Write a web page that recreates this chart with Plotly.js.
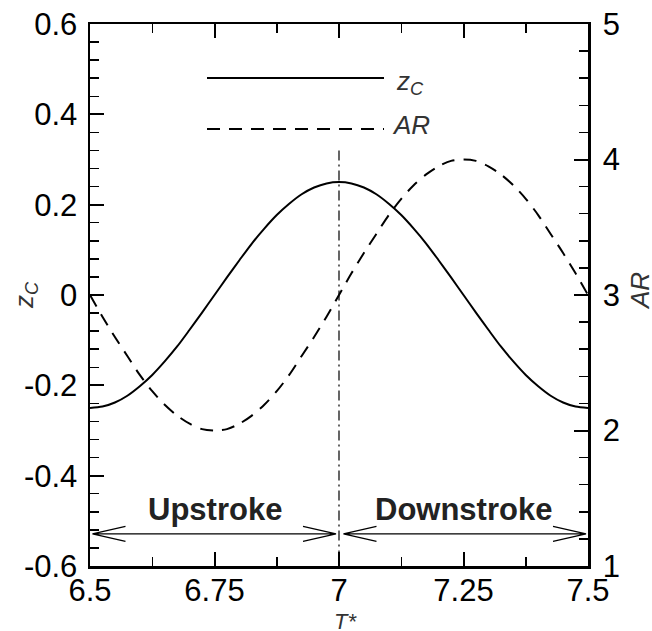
<!DOCTYPE html>
<html><head><meta charset="utf-8">
<script src="https://cdn.plot.ly/plotly-3.0.1.min.js"></script>
<style>html,body{margin:0;padding:0;background:#fff;}#chart{width:652px;height:631px;}</style>
</head><body><div id="chart"></div>
<script>
// ---- data ----
const T = [6.5,6.525,6.55,6.575,6.6,6.625,6.65,6.675,6.7,6.725,6.75,6.775,6.8,6.825,6.85,6.875,6.9,6.925,6.95,6.975,
           7.0,7.025,7.05,7.075,7.1,7.125,7.15,7.175,7.2,7.225,7.25,7.275,7.3,7.325,7.35,7.375,7.4,7.425,7.45,7.475,7.5];
const zC = [-0.25,-0.247,-0.238,-0.223,-0.202,-0.177,-0.147,-0.114,-0.077,-0.039,0.0,0.039,0.077,0.114,0.147,0.177,0.202,0.223,0.238,0.247,
            0.25,0.247,0.238,0.223,0.202,0.177,0.147,0.114,0.077,0.039,0.0,-0.039,-0.077,-0.114,-0.147,-0.177,-0.202,-0.223,-0.238,-0.247,-0.25];
const AR = [3.0,2.84,2.69,2.55,2.41,2.29,2.19,2.11,2.05,2.01,2.0,2.01,2.05,2.11,2.19,2.29,2.41,2.55,2.69,2.84,
            3.0,3.16,3.31,3.45,3.59,3.71,3.81,3.89,3.95,3.99,4.0,3.99,3.95,3.89,3.81,3.71,3.59,3.45,3.31,3.16,3.0];

const xTickVals = [6.5,6.75,7,7.25,7.5];
const xTickText = ["6.5","6.75","7","7.25","7.5"];
const yTickVals = [-0.6,-0.4,-0.2,0,0.2,0.4,0.6];
const yTickText = ["-0.6","-0.4","-0.2","0","0.2","0.4","0.6"];
const y2TickVals = [1,2,3,4,5];
const y2TickText = ["1","2","3","4","5"];

const phases = ["Upstroke","Downstroke"];
const phaseStart = [6.5,7.0];
const phaseEnd = [7.0,7.5];
const phaseMid = [6.75,7.25];
const arrowLevel = -0.529;   // zC units
const markerT = 7.0;          // dash-dot divider
const markerTop = 0.32;

// ---- layout helpers ----
const W = 652, H = 631, L = 90, R = 64, TOP = 24, B = 65;
const pw = W - L - R, ph = H - TOP - B;
const px = x => (x - L) / pw;          // pixel -> paper x
const py = y => (H - B - y) / ph;      // pixel -> paper y
const FONT = "Liberation Sans, Arial, Helvetica, sans-serif";
const INK = "#000";

const traces = [
  {x: T, y: zC, type: "scatter", mode: "lines", line: {color: INK, width: 2, shape: "spline", smoothing: 0.8}, yaxis: "y", hoverinfo: "skip"},
  {x: T, y: AR, type: "scatter", mode: "lines", line: {color: INK, width: 2, dash: "13px,9px", shape: "spline", smoothing: 0.8}, yaxis: "y2", hoverinfo: "skip"}
];

const shapes = [];
shapes.push({type: "line", xref: "x", yref: "y", x0: markerT, x1: markerT, y0: markerTop, y1: -0.6,
  line: {color: INK, width: 1.2, dash: "10px,4px,2px,4px"}});
const headDx = 33 / pw * 1.0;
const headDy = 7.5 / ph * 1.2;
for (let i = 0; i < phases.length; i++) {
  const a = phaseStart[i] + (i === 0 ? 0.005 : 0.009);
  const b = phaseEnd[i] - (i === 0 ? 0.006 : 0.004);
  const y = arrowLevel;
  shapes.push({type: "path", xref: "x", yref: "y",
    path: `M${a},${y} L${b},${y} M${a+headDx},${y+headDy} L${a},${y} L${a+headDx},${y-headDy} M${b-headDx},${y+headDy} L${b},${y} L${b-headDx},${y-headDy}`,
    line: {color: INK, width: 1.3}});
}
shapes.push({type: "line", xref: "paper", yref: "paper", x0: px(207), x1: px(384), y0: py(78), y1: py(78), line: {color: INK, width: 2}});
shapes.push({type: "line", xref: "paper", yref: "paper", x0: px(207), x1: px(384), y0: py(129), y1: py(129), line: {color: INK, width: 2, dash: "13px,9px"}});

const annotations = [];
for (let i = 0; i < phases.length; i++) {
  annotations.push({xref: "x", yref: "y", x: phaseMid[i], y: arrowLevel, yshift: 24, text: "<b>" + phases[i] + "</b>",
    showarrow: false, xanchor: "center", yanchor: "middle", font: {family: FONT, size: 31, color: "#222"}});
}
const italicFont = {family: FONT, size: 26, color: "#333"};
annotations.push({xref: "paper", yref: "paper", x: px(394), y: py(82), text: "<i>z<sub>C</sub></i>", showarrow: false, xanchor: "left", yanchor: "middle", font: italicFont});
annotations.push({xref: "paper", yref: "paper", x: px(390), y: py(125), text: "<i>AR</i>", showarrow: false, xanchor: "left", yanchor: "middle", font: italicFont});
annotations.push({xref: "paper", yref: "paper", x: px(25), y: py(295), text: "<i>z<sub>C</sub></i>", textangle: -90, showarrow: false, xanchor: "center", yanchor: "middle", font: italicFont});
annotations.push({xref: "paper", yref: "paper", x: px(640), y: py(291), text: "<i>AR</i>", textangle: -90, showarrow: false, xanchor: "center", yanchor: "middle", font: italicFont});
annotations.push({xref: "paper", yref: "paper", x: px(345), y: py(621), text: "<i>T*</i>", showarrow: false, xanchor: "center", yanchor: "middle", font: {family: FONT, size: 22, color: "#333"}});

const tickFont = {family: FONT, size: 31, color: INK};
const layout = {
  width: W, height: H,
  margin: {l: L, r: R, t: TOP, b: B, pad: 0},
  paper_bgcolor: "#fff", plot_bgcolor: "#fff",
  showlegend: false,
  xaxis: {range: [6.5, 7.5], tickvals: xTickVals, ticktext: xTickText, ticks: "inside", ticklen: 14, tickwidth: 2, tickcolor: INK,
    minor: {dtick: 0.125, tick0: 6.5, ticks: "inside", ticklen: 9, tickwidth: 1.5, tickcolor: INK, showgrid: false},
    showline: true, linewidth: 2.5, linecolor: INK, mirror: "ticks", showgrid: false, zeroline: false,
    tickfont: tickFont, ticklabelstandoff: -5},
  yaxis: {range: [-0.6, 0.6], tickvals: yTickVals, ticktext: yTickText, ticks: "inside", ticklen: 14, tickwidth: 2, tickcolor: INK,
    minor: {dtick: 0.04, tick0: -0.6, ticks: "inside", ticklen: 9, tickwidth: 1.5, tickcolor: INK, showgrid: false},
    showline: true, linewidth: 2.5, linecolor: INK, showgrid: false, zeroline: false,
    tickfont: tickFont, ticklabelstandoff: 4},
  yaxis2: {range: [1, 5], overlaying: "y", side: "right", tickvals: y2TickVals, ticktext: y2TickText, ticks: "inside", ticklen: 14, tickwidth: 2, tickcolor: INK,
    minor: {dtick: 0.2, tick0: 1, ticks: "inside", ticklen: 9, tickwidth: 1.5, tickcolor: INK, showgrid: false},
    showline: true, linewidth: 2.5, linecolor: INK, showgrid: false, zeroline: false,
    tickfont: tickFont, ticklabelstandoff: 6},
  shapes: shapes,
  annotations: annotations
};
Plotly.newPlot("chart", traces, layout, {staticPlot: true, displayModeBar: false});
</script></body></html>
